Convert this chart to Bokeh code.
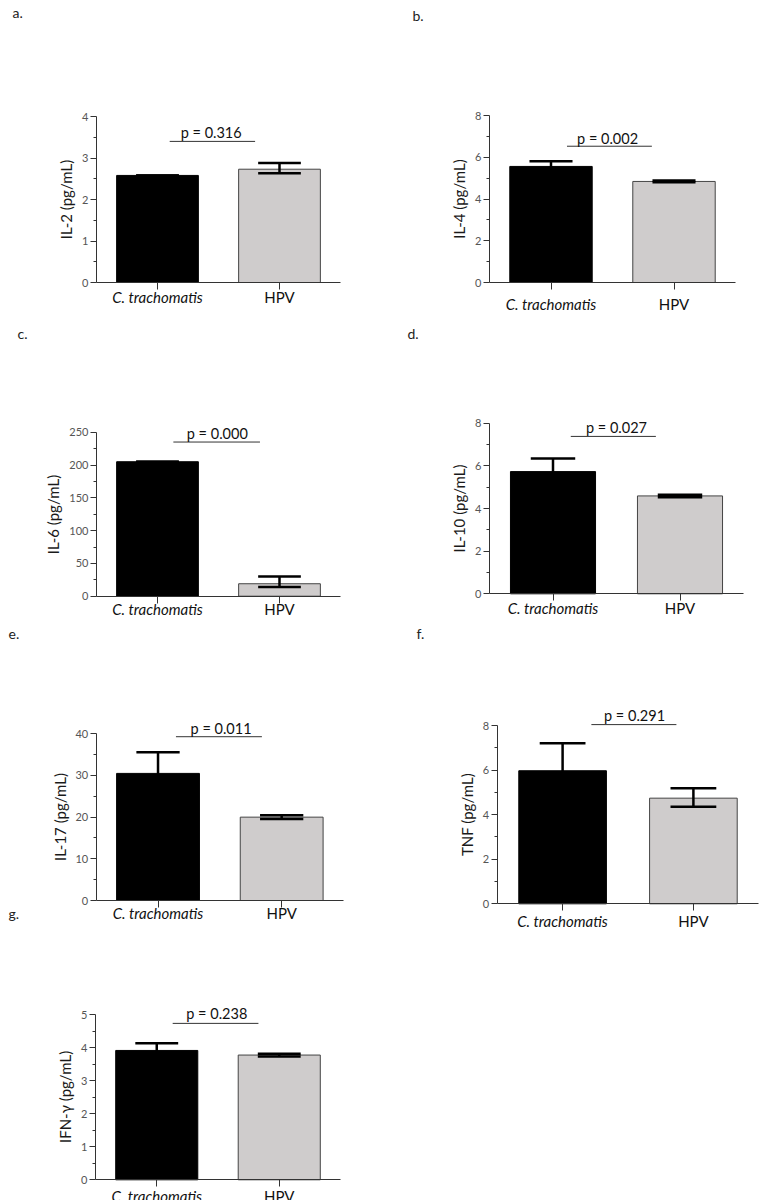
from bokeh.plotting import figure
from bokeh.layouts import row, column
from bokeh.models import Label, Arrow, FixedTicker, Range1d
from bokeh.embed import file_html
from bokeh.resources import INLINE

# ---------------- data ----------------
categories = ["C. trachomatis", "HPV"]
panel_letters = ["a.", "b.", "c.", "d.", "e.", "f.", "g."]
cytokines = ["IL-2", "IL-4", "IL-6", "IL-10", "IL-17", "TNF", "IFN-γ"]
ct_mean = [2.58, 5.57, 205.0, 5.73, 30.5, 5.97, 3.92]
ct_err = [0.0, 0.25, 0.0, 0.62, 5.1, 1.23, 0.22]
hpv_mean = [2.73, 4.85, 19.0, 4.59, 20.0, 4.74, 3.78]
hpv_err_up = [0.15, 0.04, 11.0, 0.06, 0.45, 0.45, 0.04]
hpv_err_down = [0.10, 0.04, 5.0, 0.06, 0.45, 0.38, 0.04]
p_values = ["0.316", "0.002", "0.000", "0.027", "0.011", "0.291", "0.238"]
y_max = [4, 8, 250, 8, 40, 8, 5]
y_step = [1, 2, 50, 2, 10, 2, 1]

# ---------------- layout / style (not data) ----------------
FONT = "Lato"
GRAY = "#cfcccc"
# figure box on the page: origin x, origin y, width, height
boxes = [
    (0, 0, 380, 312),      # a
    (380, 0, 384, 312),    # b
    (0, 312, 380, 310),    # c
    (380, 312, 384, 310),  # d
    (0, 622, 380, 308),    # e
    (380, 622, 384, 313),  # f
    (0, 930, 380, 270),    # g
]
# axis box on the page: left x, right x, top y (at y max), bottom y (at 0)
axes_box = [
    (96, 340, 116, 282),
    (489, 735, 115.3, 282),
    (96, 340, 431.7, 595.7),
    (489, 743, 422.7, 593.3),
    (95.7, 343, 733.3, 900),
    (496.7, 758.3, 725, 903.3),
    (95, 340, 1014.3, 1179.3),
]
# significance bracket: line y, x0, x1, text x, text y (data units)
bracket = [
    (3.40, 0.10, 0.80, 0.44, 3.62),
    (6.54, 0.13, 0.82, 0.46, 6.92),
    (235, 0.13, 0.84, 0.49, 248),
    (7.38, 0.14, 0.81, 0.50, 7.82),
    (39.3, 0.145, 0.84, 0.51, 41.2),
    (8.04, 0.22, 0.87, 0.55, 8.44),
    (4.74, 0.13, 0.83, 0.49, 5.04),
]
cat_offset = [14, 21, 13, 14, 12, 17, 16]
# panel letter position on the page (left x, centre y)
letter_pos = [(12, 12), (412, 15), (17, 333), (407, 333), (8, 633), (416, 633)]
g_letter_pos = (8, 913)

BAR_W = 0.67
CAP = 0.175
X_LO, X_HI = -0.5, 1.5


def letter_label(text, pos, box):
    ox, oy, W, H = box
    return Label(x=pos[0] - ox, y=oy + H - pos[1], x_units="screen", y_units="screen",
                 text=text, text_font=FONT, text_font_size="14px", text_color="#222",
                 text_align="left", text_baseline="middle")


figs = []
for i in range(7):
    ox, oy, W, H = boxes[i]
    X0, X1, YT, YB = axes_box[i]
    kx = (X_HI - X_LO) / (X1 - X0)
    ky = y_max[i] / (YB - YT)
    xr = Range1d(X_LO - (X0 - ox) * kx, X_HI + (ox + W - X1) * kx)
    yr = Range1d(0 - (oy + H - YB) * ky, y_max[i] + (YT - oy) * ky)

    p = figure(width=W, height=H, output_backend="svg", toolbar_location=None,
               x_range=xr, y_range=yr,
               min_border_left=0, min_border_right=0, min_border_top=0, min_border_bottom=0)
    p.outline_line_color = None
    p.xgrid.visible = False
    p.ygrid.visible = False
    p.background_fill_color = "white"
    p.border_fill_color = "white"

    # bars
    p.vbar(x=[0], top=[ct_mean[i]], bottom=0, width=BAR_W, fill_color="black", line_color="black", line_width=1)
    p.vbar(x=[1], top=[hpv_mean[i]], bottom=0, width=BAR_W, fill_color=GRAY, line_color="#444444", line_width=1)

    # error bars
    xs = [0, 1]
    lo = [ct_mean[i] - ct_err[i], hpv_mean[i] - hpv_err_down[i]]
    hi = [ct_mean[i] + ct_err[i], hpv_mean[i] + hpv_err_up[i]]
    p.segment(x0=xs, y0=lo, x1=xs, y1=hi, line_color="black", line_width=2.5)
    p.segment(x0=[x - CAP for x in xs], y0=hi, x1=[x + CAP for x in xs], y1=hi,
              line_color="black", line_width=2.5)
    p.segment(x0=[x - CAP for x in xs], y0=lo, x1=[x + CAP for x in xs], y1=lo,
              line_color="black", line_width=2.5)

    # y axis
    step = y_step[i]
    majors = [k * step for k in range(int(round(y_max[i] / step)) + 1)]
    minors = [m + step / 2 for m in majors[:-1]]
    yax = p.yaxis[0]
    yax.fixed_location = X_LO
    yax.bounds = (0, y_max[i])
    yax.ticker = FixedTicker(ticks=majors, minor_ticks=minors)
    yax.axis_label = f"{cytokines[i]} (pg/mL)"
    yax.axis_label_text_font = FONT
    yax.axis_label_text_font_size = "15px"
    yax.axis_label_text_font_style = "normal"
    yax.axis_label_text_color = "#1a1a1a"
    yax.axis_label_standoff = 4
    yax.major_label_text_font = FONT
    yax.major_label_text_font_size = "11px"
    yax.major_label_text_color = "#555"
    yax.major_label_standoff = 2
    yax.major_tick_in = 0
    yax.major_tick_out = 6
    yax.minor_tick_in = 0
    yax.minor_tick_out = 3
    yax.axis_line_color = "#333"
    yax.major_tick_line_color = "#333"
    yax.minor_tick_line_color = "#333"

    # x axis (category labels drawn as labels for mixed italic/upright)
    xax = p.xaxis[0]
    xax.fixed_location = 0
    xax.bounds = (X_LO, X_HI)
    xax.ticker = FixedTicker(ticks=[0, 1], minor_ticks=[])
    xax.major_label_overrides = {0: "", 1: ""}
    xax.major_label_text_font_size = "0px"
    xax.major_label_standoff = 0
    xax.major_tick_in = 0
    xax.major_tick_out = 7
    xax.minor_tick_out = 0
    xax.axis_line_color = "#333"
    xax.major_tick_line_color = "#333"

    for j, cat in enumerate(categories):
        p.add_layout(Label(x=j, y=0, y_offset=-cat_offset[i], text=cat, text_font=FONT,
                           text_font_size="15px", text_color="#111",
                           text_font_style="italic" if j == 0 else "normal",
                           text_align="center", text_baseline="middle"))

    # significance bracket
    ly, lx0, lx1, tx, ty = bracket[i]
    p.add_layout(Arrow(end=None, x_start=lx0, y_start=ly, x_end=lx1, y_end=ly,
                       line_color="#333", line_width=1))
    p.add_layout(Label(x=tx, y=ty, text=f"p = {p_values[i]}", text_font=FONT,
                       text_font_size="14.5px", text_color="#111",
                       text_align="center", text_baseline="middle"))

    # panel letter
    if i < 6:
        p.add_layout(letter_label(panel_letters[i], letter_pos[i], boxes[i]))
    if i == 4:
        p.add_layout(letter_label(panel_letters[6], g_letter_pos, boxes[i]))
    figs.append(p)

layout = row(column(figs[0], figs[2], figs[4], figs[6]),
             column(figs[1], figs[3], figs[5]))

open("out.html", "w").write(file_html(layout, INLINE))
